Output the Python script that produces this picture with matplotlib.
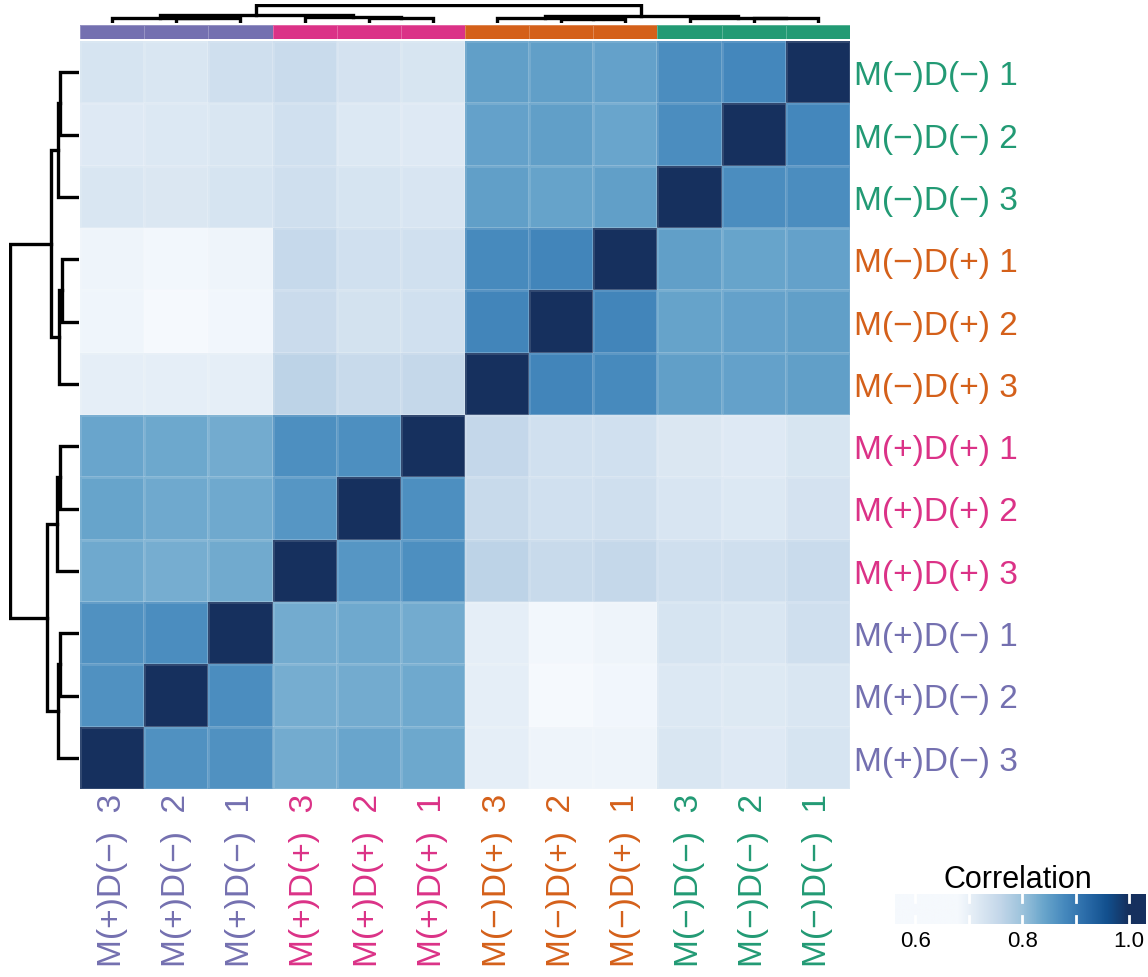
import numpy as np
import matplotlib
matplotlib.use("Agg")
import matplotlib.pyplot as plt
from matplotlib.colors import LinearSegmentedColormap, ListedColormap, Normalize

plt.rcParams['font.family'] = ['Liberation Sans', 'DejaVu Sans']

# samples in row order (top -> bottom); columns use the reverse order
samples = ["M(−)D(−) 1", "M(−)D(−) 2", "M(−)D(−) 3",
           "M(−)D(+) 1", "M(−)D(+) 2", "M(−)D(+) 3",
           "M(+)D(+) 1", "M(+)D(+) 2", "M(+)D(+) 3",
           "M(+)D(−) 1", "M(+)D(−) 2", "M(+)D(−) 3"]
col_labels = [s.replace(" ", "  ") for s in samples[::-1]]
groups = ["NN", "NN", "NN", "NP", "NP", "NP", "PP", "PP", "PP", "PN", "PN", "PN"]
group_colors = {"NN": "#229a74", "NP": "#d4601a", "PP": "#db3287", "PN": "#7470b0"}

# correlation as displayed: rows = samples, columns = reversed samples
corr = [
    [0.729, 0.725, 0.740, 0.750, 0.733, 0.728, 0.850, 0.850, 0.847, 0.874, 0.883, 1.000],
    [0.717, 0.720, 0.725, 0.738, 0.720, 0.717, 0.846, 0.850, 0.841, 0.874, 1.000, 0.883],
    [0.725, 0.723, 0.730, 0.740, 0.729, 0.726, 0.850, 0.845, 0.850, 1.000, 0.874, 0.874],
    [0.692, 0.685, 0.692, 0.754, 0.738, 0.738, 0.879, 0.886, 1.000, 0.850, 0.842, 0.847],
    [0.690, 0.680, 0.686, 0.748, 0.735, 0.738, 0.886, 1.000, 0.886, 0.845, 0.847, 0.850],
    [0.706, 0.705, 0.706, 0.765, 0.752, 0.755, 1.000, 0.886, 0.879, 0.850, 0.847, 0.850],
    [0.841, 0.838, 0.832, 0.872, 0.872, 1.000, 0.757, 0.738, 0.738, 0.723, 0.717, 0.728],
    [0.842, 0.836, 0.836, 0.862, 1.000, 0.872, 0.752, 0.738, 0.740, 0.726, 0.720, 0.732],
    [0.836, 0.830, 0.834, 1.000, 0.862, 0.872, 0.765, 0.752, 0.755, 0.740, 0.740, 0.750],
    [0.868, 0.874, 1.000, 0.833, 0.836, 0.832, 0.705, 0.685, 0.692, 0.729, 0.725, 0.740],
    [0.868, 1.000, 0.874, 0.830, 0.833, 0.836, 0.705, 0.680, 0.686, 0.721, 0.719, 0.725],
    [1.000, 0.868, 0.868, 0.833, 0.841, 0.838, 0.705, 0.692, 0.692, 0.725, 0.717, 0.729],
]

# hierarchical clustering merges (child a, child b, height); new nodes numbered from 12
linkage = [
    [0, 1, 0.27], [12, 2, 0.30],
    [3, 4, 0.25], [14, 5, 0.29],
    [6, 7, 0.28], [16, 8, 0.32],
    [9, 10, 0.27], [18, 11, 0.30],
    [13, 15, 0.41], [17, 19, 0.465],
    [20, 21, 1.0],
]

cb_ticks = [0.6, 0.8, 1.0]

# colour scale
stops = [(0.56, "#f6f9fd"), (0.68, "#f5f9fd"), (0.72, "#dce8f3"), (0.76, "#c2d6e9"),
         (0.80, "#9dc3dc"), (0.84, "#6aa6cc"), (0.88, "#4689bd"), (0.92, "#2b6ca9"),
         (0.96, "#12508e"), (1.00, "#16305e")]
vmin, vmax = 0.56, 1.0
cmap = LinearSegmentedColormap.from_list(
    "corr", [((v - vmin) / (vmax - vmin), c) for v, c in stops])
cmap.set_over("#16305e")
norm = Normalize(vmin, vmax)

W, H = 1148, 978
fig = plt.figure(figsize=(W / 100, H / 100), dpi=100)


def px_axes(x0, y0, x1, y1):
    return fig.add_axes([x0 / W, 1 - y1 / H, (x1 - x0) / W, (y1 - y0) / H])


n = len(samples)
data = np.array(corr)

# heatmap
ax = px_axes(80, 42, 850, 790)
ax.pcolormesh(np.arange(n + 1), np.arange(n + 1), data, cmap=cmap, norm=norm,
              edgecolors=(1, 1, 1, 0.12), linewidth=0.8)
ax.set_xlim(0, n)
ax.set_ylim(n, 0)
for s in ax.spines.values():
    s.set_visible(False)
ax.yaxis.tick_right()
ax.set_yticks(np.arange(n) + 0.5)
ax.set_yticklabels(samples, fontsize=24)
ax.set_xticks(np.arange(n) + 0.5)
ax.set_xticklabels(col_labels, fontsize=24, rotation=90)
ax.tick_params(axis="y", length=0, pad=3)
ax.tick_params(axis="x", length=0, pad=3)
for lab, g in zip(ax.get_yticklabels(), groups):
    lab.set_color(group_colors[g])
for lab, g in zip(ax.get_xticklabels(), groups[::-1]):
    lab.set_color(group_colors[g])

# annotation bar
axa = px_axes(80, 26, 850, 40)
gidx = {"NN": 0, "NP": 1, "PP": 2, "PN": 3}
bar = np.array([[gidx[g] for g in groups[::-1]]])
axa.pcolormesh(np.arange(n + 1), [0, 1], bar,
               cmap=ListedColormap([group_colors[k] for k in ["NN", "NP", "PP", "PN"]]),
               vmin=-0.5, vmax=3.5, edgecolors=(1, 1, 1, 0.25), linewidth=0.6)
axa.set_xlim(0, n)
axa.axis("off")


def dendro(link, leaf_pos):
    pos = dict(enumerate(leaf_pos))
    hgt = {i: 0.0 for i in range(len(leaf_pos))}
    segs = []
    for k, (a, b, h) in enumerate(link):
        segs.append(([pos[a], pos[a], pos[b], pos[b]], [hgt[a], h, h, hgt[b]]))
        pos[len(leaf_pos) + k] = (pos[a] + pos[b]) / 2
        hgt[len(leaf_pos) + k] = h
    return segs


# left dendrogram
axl = px_axes(9, 42, 79, 790)
for p, h in dendro(linkage, [i + 0.5 for i in range(n)]):
    axl.plot(h, p, color="black", lw=2.4, solid_joinstyle="miter", solid_capstyle="projecting")
axl.set_xlim(1.02, 0)
axl.set_ylim(n, 0)
axl.axis("off")

# top dendrogram
axt = px_axes(80, 5, 850, 24)
for p, h in dendro(linkage, [n - 1 - i + 0.5 for i in range(n)]):
    axt.plot(p, h, color="black", lw=2.4, solid_joinstyle="miter", solid_capstyle="projecting")
axt.set_xlim(0, n)
axt.set_ylim(0, 1.08)
axt.axis("off")

# colour bar
axc = px_axes(895, 895, 1146, 925)
lo, hi = 0.562, 1.032
grad = np.linspace(lo, hi, 400).reshape(1, -1)
axc.imshow(grad, cmap=cmap, norm=norm, aspect="auto", extent=[lo, hi, 0, 1])
for v in [0.6, 0.7, 0.8, 0.9, 1.0]:
    axc.plot([v, v], [0, 0.28], color="white", lw=2)
    axc.plot([v, v], [0.72, 1], color="white", lw=2)
axc.set_xlim(lo, hi)
axc.set_ylim(0, 1)
axc.set_yticks([])
axc.set_xticks(cb_ticks)
axc.set_xticklabels(["%.1f" % t for t in cb_ticks], fontsize=16)
axc.tick_params(length=0, pad=4)
for s in axc.spines.values():
    s.set_visible(False)
fig.text(1018 / W, 1 - 880 / H, "Correlation", fontsize=22, ha="center", va="center")

fig.savefig("out.png", dpi=100)
